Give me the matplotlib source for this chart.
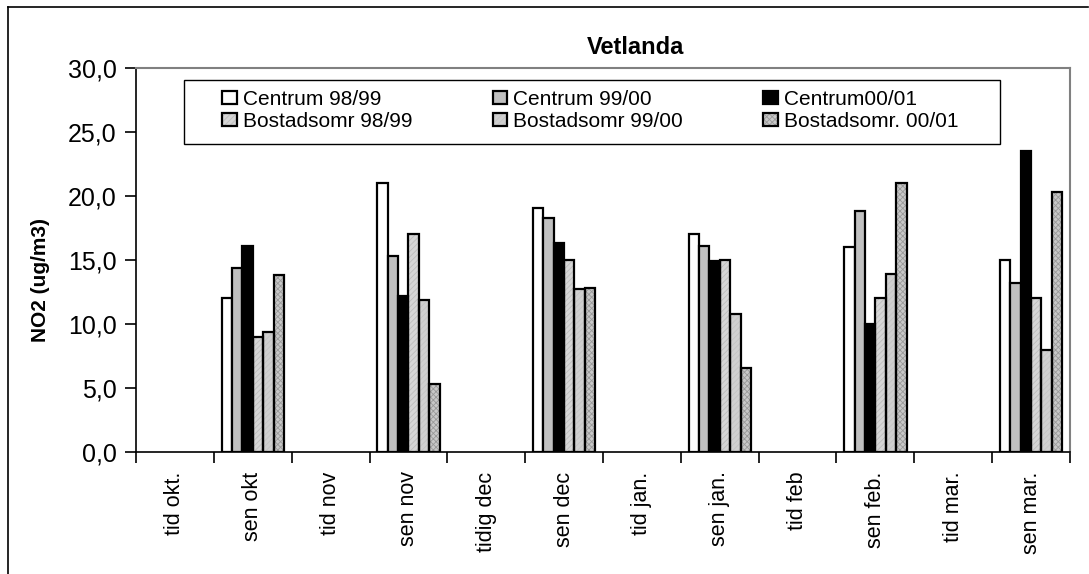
import numpy as np
import matplotlib
matplotlib.use("Agg")
import matplotlib.pyplot as plt
from matplotlib.patches import Patch, Rectangle
from matplotlib.lines import Line2D

plt.rcParams['font.family'] = ['Liberation Sans', 'DejaVu Sans']
plt.rcParams['hatch.linewidth'] = 0.6

categories = ['tid okt.', 'sen okt', 'tid nov', 'sen nov', 'tidig dec', 'sen dec',
              'tid jan.', 'sen jan.', 'tid feb', 'sen feb.', 'tid mar.', 'sen mar.']
series_names = ['Centrum 98/99', 'Centrum 99/00', 'Centrum00/01',
                'Bostadsomr 98/99', 'Bostadsomr 99/00', 'Bostadsomr. 00/01']
nan = np.nan
centrum_9899 = [nan, 12.0, nan, 21.0, nan, 19.1, nan, 17.0, nan, 16.0, nan, 15.0]
centrum_9900 = [nan, 14.4, nan, 15.3, nan, 18.3, nan, 16.1, nan, 18.8, nan, 13.2]
centrum_0001 = [nan, 16.1, nan, 12.2, nan, 16.3, nan, 14.9, nan, 10.0, nan, 23.5]
bostad_9899 = [nan, 9.0, nan, 17.0, nan, 15.0, nan, 15.0, nan, 12.0, nan, 12.0]
bostad_9900 = [nan, 9.4, nan, 11.9, nan, 12.7, nan, 10.8, nan, 13.9, nan, 8.0]
bostad_0001 = [nan, 13.8, nan, 5.3, nan, 12.8, nan, 6.6, nan, 21.0, nan, 20.3]
values = [centrum_9899, centrum_9900, centrum_0001, bostad_9899, bostad_9900, bostad_0001]

# fill, hatch, hatch colour
styles = [('white', None, None),
          ('#c0c0c0', None, None),
          ('black', None, None),
          ('#d6d6d6', '//////', '#bdbdbd'),
          ('#d0d0d0', '//////', '#c4c4c4'),
          ('#c8c8c8', 'xxxxxx', '#999999')]

W, H = 1089, 574
fig = plt.figure(figsize=(W / 100, H / 100), dpi=100)
ax = fig.add_axes([136 / W, 1 - 452 / H, (1070 - 136) / W, (452 - 68) / H])

x = np.arange(len(categories))
bw = 0.8 / 6
handles = []
for i, (vals, (fc, hatch, hc)) in enumerate(zip(values, styles)):
    pos = x - 0.4 + bw * (i + 0.5)
    if hatch:
        ax.bar(pos, vals, bw, color=fc, hatch=hatch, edgecolor=hc, linewidth=0, zorder=2)
        ax.bar(pos, vals, bw, fill=False, edgecolor='black', linewidth=1.6, zorder=3)
        h = (Patch(facecolor=fc, hatch=hatch, edgecolor=hc, linewidth=0),
             Patch(fill=False, edgecolor='black', linewidth=1.6))
    else:
        ax.bar(pos, vals, bw, color=fc, edgecolor='black', linewidth=1.6, zorder=3)
        h = Patch(facecolor=fc, edgecolor='black', linewidth=1.6)
    handles.append(h)

ax.set_xlim(-0.5, len(categories) - 0.5)
ax.set_ylim(0, 30)
ax.set_yticks(np.arange(0, 30.1, 5))
ax.set_yticklabels([f'{v:.1f}'.replace('.', ',') for v in np.arange(0, 30.1, 5)], fontsize=18)
ax.set_xticks(np.arange(-0.5, len(categories) - 0.4, 1))
ax.set_xticklabels([])
ax.set_xticks(x, minor=True)
ax.set_xticklabels(categories, minor=True, rotation=90, fontsize=15.5)
ax.tick_params(axis='x', which='minor', length=0, pad=14)
ax.tick_params(axis='x', which='major', length=8, width=1.2, direction='out')
ax.tick_params(axis='y', length=8, width=1.2, direction='out', pad=6)
for s in ['left', 'bottom']:
    ax.spines[s].set_color('black')
    ax.spines[s].set_linewidth(1.2)
for s in ['top', 'right']:
    ax.spines[s].set_color('#808080')
    ax.spines[s].set_linewidth(1.5)

# legend, filled row by row like the original; box drawn separately
order = [0, 3, 1, 4, 2, 5]
leg = fig.legend([handles[k] for k in order], [series_names[k] for k in order],
                 ncol=3, loc='upper left', bbox_to_anchor=(222 / W, 1 - 90 / H),
                 fontsize=15, frameon=False, borderaxespad=0, borderpad=0,
                 handlelength=0.7, handleheight=0.6, handletextpad=0.3,
                 labelspacing=0.15, columnspacing=3.85)
fig.add_artist(Rectangle((184 / W, 1 - 144 / H), (1000 - 184) / W, 64 / H,
                         transform=fig.transFigure, fill=False, edgecolor='black', lw=1.0))

fig.text(636 / W, 1 - 48 / H, 'Vetlanda', fontsize=17, fontweight='bold', ha='center', va='center')
fig.text(40 / W, 1 - 280 / H, 'NO2 (ug/m3)', fontsize=15, fontweight='bold',
         rotation=90, ha='center', va='center')

# outer chart frame (cut off at the bottom of the picture)
fig.add_artist(Line2D([8 / W, 8 / W], [1 - 7 / H, 0], transform=fig.transFigure, color='black', lw=1.2))
fig.add_artist(Line2D([8 / W, 1088 / W], [1 - 7 / H, 1 - 7 / H], transform=fig.transFigure, color='black', lw=1.2))

fig.savefig('out.png', dpi=100)
